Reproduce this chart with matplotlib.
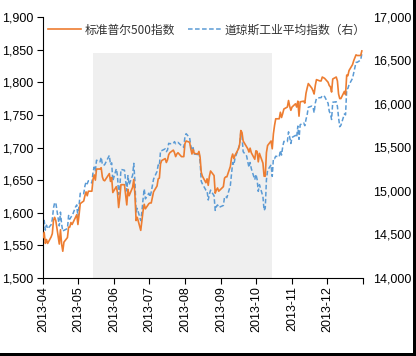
import matplotlib
matplotlib.use("Agg")
import matplotlib.pyplot as plt
import matplotlib.dates as mdates
from matplotlib.ticker import FuncFormatter, MultipleLocator
from matplotlib.patches import Rectangle
import pandas as pd

plt.rcParams['font.family'] = ['Liberation Sans', 'Noto Sans CJK SC', 'DejaVu Sans']

# ---------------- data ----------------
start_date = "2013-04-01"
end_date = "2013-12-31"
holidays = ["2013-05-27", "2013-07-04", "2013-09-02", "2013-11-28", "2013-12-25"]

sp500 = [
    # Apr
    1562, 1570, 1553, 1559, 1553, 1563, 1568, 1588, 1593, 1588, 1552, 1574, 1552, 1541, 1555,
    1562, 1578, 1578, 1585, 1582, 1593, 1597,
    # May
    1582, 1597, 1614, 1618, 1626, 1632, 1626, 1633, 1633, 1651, 1658, 1650, 1667, 1667, 1669,
    1655, 1650, 1649, 1660, 1648, 1654, 1631,
    # Jun
    1640, 1631, 1608, 1623, 1643, 1643, 1627, 1612, 1636, 1626, 1639, 1651, 1628, 1588, 1593,
    1573, 1588, 1603, 1613, 1606,
    # Jul
    1614, 1615, 1615, 1632, 1641, 1652, 1653, 1675, 1680, 1683, 1677, 1681, 1689, 1692, 1696,
    1692, 1686, 1690, 1692, 1686, 1686, 1686,
    # Aug
    1706, 1710, 1708, 1698, 1690, 1697, 1691, 1690, 1694, 1685, 1662, 1656, 1646, 1652, 1642,
    1656, 1664, 1657, 1630, 1635, 1638, 1633,
    # Sep
    1640, 1653, 1655, 1655, 1671, 1684, 1690, 1683, 1688, 1698, 1705, 1726, 1723, 1710, 1701,
    1698, 1693, 1699, 1692, 1682,
    # Oct
    1695, 1694, 1678, 1691, 1676, 1656, 1656, 1692, 1703, 1710, 1698, 1721, 1734, 1744, 1744,
    1754, 1746, 1752, 1759, 1762, 1772, 1763, 1757,
    # Nov
    1762, 1767, 1762, 1771, 1748, 1770, 1771, 1768, 1783, 1791, 1798, 1791, 1787, 1782, 1795,
    1804, 1802, 1802, 1808, 1806,
    # Dec
    1800, 1795, 1793, 1785, 1805, 1808, 1802, 1782, 1775, 1775, 1786, 1781, 1811, 1810, 1818,
    1827, 1833, 1842, 1841, 1841, 1848,
]

dow = [
    # Apr
    14572, 14662, 14550, 14607, 14565, 14613, 14673, 14802, 14865, 14865, 14599, 14757, 14619,
    14537, 14548, 14568, 14719, 14676, 14700, 14712, 14818, 14840,
    # May
    14700, 14831, 14974, 14969, 15056, 15105, 15083, 15118, 15092, 15216, 15275, 15233, 15354,
    15335, 15388, 15307, 15294, 15303, 15409, 15302, 15324, 15116,
    # Jun
    15255, 15177, 14960, 15041, 15248, 15239, 15123, 15000, 15177, 15071, 15180, 15318, 15112,
    14758, 14800, 14660, 14760, 14910, 15024, 14910,
    # Jul
    14975, 14932, 14988, 15136, 15225, 15300, 15291, 15461, 15464, 15484, 15452, 15471, 15548,
    15544, 15545, 15568, 15543, 15555, 15559, 15521, 15521, 15500,
    # Aug
    15628, 15659, 15612, 15518, 15471, 15498, 15425, 15419, 15451, 15337, 15112, 15081, 15010,
    15003, 14897, 14963, 15010, 14946, 14777, 14824, 14840, 14810,
    # Sep
    14834, 14930, 14938, 14922, 15063, 15191, 15327, 15300, 15376, 15494, 15530, 15677, 15636,
    15452, 15402, 15334, 15273, 15328, 15258, 15130,
    # Oct
    15192, 15133, 14996, 15073, 14936, 14776, 14802, 15127, 15237, 15301, 15168, 15374, 15372,
    15400, 15392, 15467, 15413, 15509, 15570, 15568, 15680, 15618, 15546,
    # Nov
    15616, 15639, 15618, 15746, 15594, 15762, 15783, 15751, 15822, 15876, 15962, 15976, 15967,
    15900, 16010, 16065, 16073, 16073, 16098, 16086,
    # Dec
    16008, 15915, 15889, 15822, 16020, 16026, 15973, 15844, 15739, 15755, 15885, 15875, 16168,
    16179, 16221, 16295, 16358, 16479, 16479, 16505, 16577,
]

shade_start = "2013-05-14"
shade_end = "2013-10-15"
shade_top = 1845

label_sp = "标准普尔500指数"
label_dow = "道琼斯工业平均指数（右）"

dates = pd.bdate_range(start_date, end_date)
dates = dates[~dates.isin(pd.to_datetime(holidays))]
n = min(len(dates), len(sp500), len(dow))
dates = dates[:n]

# ---------------- plot ----------------
W, H = 416, 356
fig = plt.figure(figsize=(W / 100, H / 100), dpi=100)
ax = fig.add_axes([43 / W, 1 - 278 / H, (363 - 43) / W, (278 - 17) / H])
ax2 = ax.twinx()

orange = "#ED7D31"
blue = "#5B9BD5"

ax.set_xlim(pd.Timestamp("2013-04-01"), pd.Timestamp("2014-01-01"))
ax.set_ylim(1500, 1900)
ax2.set_ylim(14000, 17000)

# shading drawn in the lower axes (ax2) but using left-axis data coordinates
s0 = mdates.date2num(pd.Timestamp(shade_start))
s1 = mdates.date2num(pd.Timestamp(shade_end))
ax2.add_patch(Rectangle((s0, 1500), s1 - s0, shade_top - 1500, transform=ax.transData,
                        facecolor="#EFEFEF", edgecolor="none", zorder=0))

l2, = ax2.plot(dates, dow[:n], color=blue, lw=1.1, ls=(0, (3, 1.6)), zorder=3)
l1, = ax.plot(dates, sp500[:n], color=orange, lw=1.2, zorder=3)

ax.yaxis.set_major_locator(MultipleLocator(50))
ax2.yaxis.set_major_locator(MultipleLocator(500))
fmt = FuncFormatter(lambda v, p: f"{v:,.0f}")
ax.yaxis.set_major_formatter(fmt)
ax2.yaxis.set_major_formatter(fmt)

ax.xaxis.set_major_locator(mdates.MonthLocator())
ax.xaxis.set_major_formatter(
    FuncFormatter(lambda v, p: mdates.num2date(v).strftime("%Y-%m") if mdates.num2date(v).year == 2013 else ""))
ax.tick_params(axis='x', labelrotation=90, labelsize=9, length=4, width=0.8, pad=2, direction='out')
ax.tick_params(axis='y', labelsize=9, length=4, width=0.8, pad=3, direction='out')
ax2.tick_params(axis='y', labelsize=9, length=0, pad=7.5)

for a in (ax, ax2):
    a.spines['top'].set_visible(False)
    a.spines['right'].set_visible(False)
ax2.spines['left'].set_visible(False)
ax2.spines['bottom'].set_visible(False)
ax.spines['left'].set_linewidth(0.8)
ax.spines['bottom'].set_linewidth(0.8)
ax.set_zorder(ax2.get_zorder() + 1)
ax.patch.set_visible(False)

leg = fig.legend([l1, l2], [label_sp, label_dow], loc='upper left',
                 bbox_to_anchor=(37 / W, 1 - 13 / H), ncol=2, frameon=False,
                 handlelength=2.8, handletextpad=0.3, columnspacing=1.1,
                 prop={'family': ['Noto Sans CJK SC', 'DejaVu Sans'], 'size': 8.5})
for t in leg.get_texts():
    t.set_color("#333333")

# black frame edges at right and bottom
fig.patches.append(Rectangle((413 / W, 0), 3 / W, 1, transform=fig.transFigure,
                             facecolor="black", edgecolor="none"))
fig.patches.append(Rectangle((0, 0), 1, 3 / H, transform=fig.transFigure,
                             facecolor="black", edgecolor="none"))

fig.savefig("out.png", dpi=100)
